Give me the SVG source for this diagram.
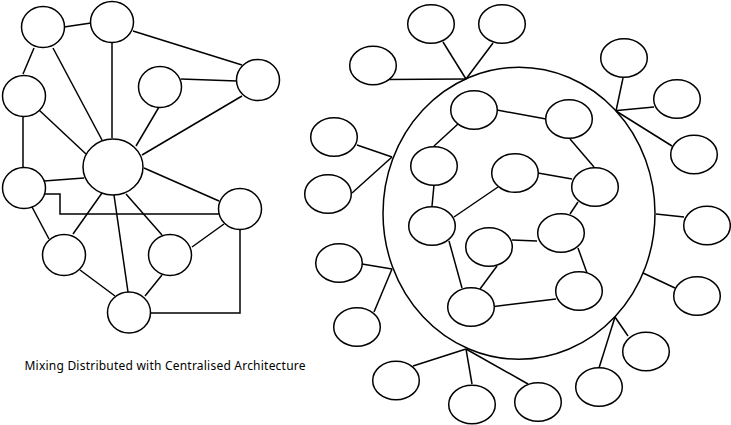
<svg xmlns="http://www.w3.org/2000/svg" width="731" height="425" viewBox="0 0 731 425">
<style>
.n{fill:#fff;stroke:#000;stroke-width:1.5}
.e{fill:none;stroke:#000;stroke-width:1.5}
.t{font-family:"Noto Sans","Open Sans",sans-serif;font-size:12px;fill:#000}
</style>
<rect width="731" height="425" fill="#fff"/>
<g id="connectors" class="e">
<path d="M64 27L91 23"/>
<path d="M133 31L242 65"/>
<path d="M34 48L23 74"/>
<path d="M53 48L102 140"/>
<path d="M112 43V138"/>
<path d="M181 79L237 81"/>
<path d="M159 107L136 146"/>
<path d="M242 96L142 155"/>
<path d="M39 110L86 154"/>
<path d="M23 117V168"/>
<path d="M144 168L219 201"/>
<path d="M44 181L84 178"/>
<path d="M45 194H60V214H219"/>
<path d="M32 207L49 239"/>
<path d="M102 193L73 234"/>
<path d="M114 195L128 292"/>
<path d="M126 194L162 235"/>
<path d="M80 270L115 296"/>
<path d="M162 275L145 296"/>
<path d="M192 247L224 224"/>
<path d="M240 230V313H151"/>
<path d="M388 79.5L466 79"/>
<path d="M443 42L466 79"/>
<path d="M493 43L466 79"/>
<path d="M357 145L392 157"/>
<path d="M352 193L392 157"/>
<path d="M458 124L434 146"/>
<path d="M497 110L546 119"/>
<path d="M434 185L432 206"/>
<path d="M454 217L498 187"/>
<path d="M538 173L572 179"/>
<path d="M570 139L594 167"/>
<path d="M578 202L570 214"/>
<path d="M512 240L537 241"/>
<path d="M578 248L587 273"/>
<path d="M494 306.5L556 299"/>
<path d="M449 241L462 288"/>
<path d="M497 266L480 289"/>
<path d="M623 78L616 111"/>
<path d="M654 107L617 110.5"/>
<path d="M672 146L616 111"/>
<path d="M656 214L684 217"/>
<path d="M643 273L675 288"/>
<path d="M615 317L628 336"/>
<path d="M615 317L599 368"/>
<path d="M466 349L528 384"/>
<path d="M466 349L413 366"/>
<path d="M466 349L472 384"/>
<path d="M392 269L362 264"/>
<path d="M392 269L374 312"/>
</g>
<g id="cluster"><ellipse class="n" style="fill:none" cx="519" cy="213.3" rx="136" ry="146"/></g>
<g id="left-nodes">
<g id="hub"><ellipse class="n" cx="113" cy="167" rx="30" ry="28"/></g>
<g id="a"><ellipse class="n" cx="43" cy="27" rx="21.5" ry="20.5"/></g>
<g id="b"><ellipse class="n" cx="112" cy="22" rx="21.5" ry="20.5"/></g>
<g id="c"><ellipse class="n" cx="24" cy="96" rx="21.5" ry="20.5"/></g>
<g id="d"><ellipse class="n" cx="160" cy="87" rx="21.5" ry="20.5"/></g>
<g id="e"><ellipse class="n" cx="258" cy="80" rx="21.5" ry="20.5"/></g>
<g id="f"><ellipse class="n" cx="24" cy="188" rx="21.5" ry="20.5"/></g>
<g id="g"><ellipse class="n" cx="240" cy="209" rx="21.5" ry="20.5"/></g>
<g id="h"><ellipse class="n" cx="64" cy="255" rx="21.5" ry="20.5"/></g>
<g id="i"><ellipse class="n" cx="170" cy="255" rx="21.5" ry="20.5"/></g>
<g id="j"><ellipse class="n" cx="129" cy="312.5" rx="21.5" ry="20.5"/></g>
</g>
<g id="inner-nodes">
<g id="m1"><ellipse class="n" cx="474" cy="110" rx="23.3" ry="19.3"/></g>
<g id="m2"><ellipse class="n" cx="434" cy="166" rx="23.3" ry="19.3"/></g>
<g id="m3"><ellipse class="n" cx="569" cy="119" rx="23.3" ry="19.3"/></g>
<g id="m4"><ellipse class="n" cx="432" cy="226" rx="23.3" ry="19.3"/></g>
<g id="m5"><ellipse class="n" cx="515" cy="173" rx="23.3" ry="19.3"/></g>
<g id="m6"><ellipse class="n" cx="595" cy="187" rx="23.3" ry="19.3"/></g>
<g id="m7"><ellipse class="n" cx="561" cy="233" rx="23.3" ry="19.3"/></g>
<g id="m8"><ellipse class="n" cx="489" cy="247" rx="23.3" ry="19.3"/></g>
<g id="m9"><ellipse class="n" cx="579" cy="291" rx="23.3" ry="19.3"/></g>
<g id="m10"><ellipse class="n" cx="471" cy="307" rx="23.3" ry="19.3"/></g>
</g>
<g id="outer-nodes">
<g id="n1"><ellipse class="n" cx="431" cy="24" rx="23.3" ry="19.3"/></g>
<g id="n2"><ellipse class="n" cx="502" cy="24" rx="23.3" ry="19.3"/></g>
<g id="n3"><ellipse class="n" cx="373" cy="65.5" rx="23.3" ry="19.3"/></g>
<g id="n4"><ellipse class="n" cx="334" cy="137" rx="23.3" ry="19.3"/></g>
<g id="n5"><ellipse class="n" cx="328" cy="194" rx="23.3" ry="19.3"/></g>
<g id="r1"><ellipse class="n" cx="624" cy="58" rx="23.3" ry="19.3"/></g>
<g id="r2"><ellipse class="n" cx="677" cy="99" rx="23.3" ry="19.3"/></g>
<g id="r3"><ellipse class="n" cx="694" cy="154.5" rx="23.3" ry="19.3"/></g>
<g id="r4"><ellipse class="n" cx="707" cy="225.5" rx="23.3" ry="19.3"/></g>
<g id="r5"><ellipse class="n" cx="697" cy="296" rx="23.3" ry="19.3"/></g>
<g id="r6"><ellipse class="n" cx="646" cy="351.5" rx="23.3" ry="19.3"/></g>
<g id="r7"><ellipse class="n" cx="599" cy="387" rx="23.3" ry="19.3"/></g>
<g id="r8"><ellipse class="n" cx="538" cy="402" rx="23.3" ry="19.3"/></g>
<g id="l1"><ellipse class="n" cx="396" cy="380.5" rx="23.3" ry="19.3"/></g>
<g id="l2"><ellipse class="n" cx="472" cy="404.5" rx="23.3" ry="19.3"/></g>
<g id="l3"><ellipse class="n" cx="339" cy="263" rx="23.3" ry="19.3"/></g>
<g id="l4"><ellipse class="n" cx="357" cy="327" rx="23.3" ry="19.3"/></g>
</g>
<g id="caption"><text class="t" x="24.5" y="369.5" textLength="281" lengthAdjust="spacing">Mixing Distributed with Centralised Architecture</text></g>
</svg>
